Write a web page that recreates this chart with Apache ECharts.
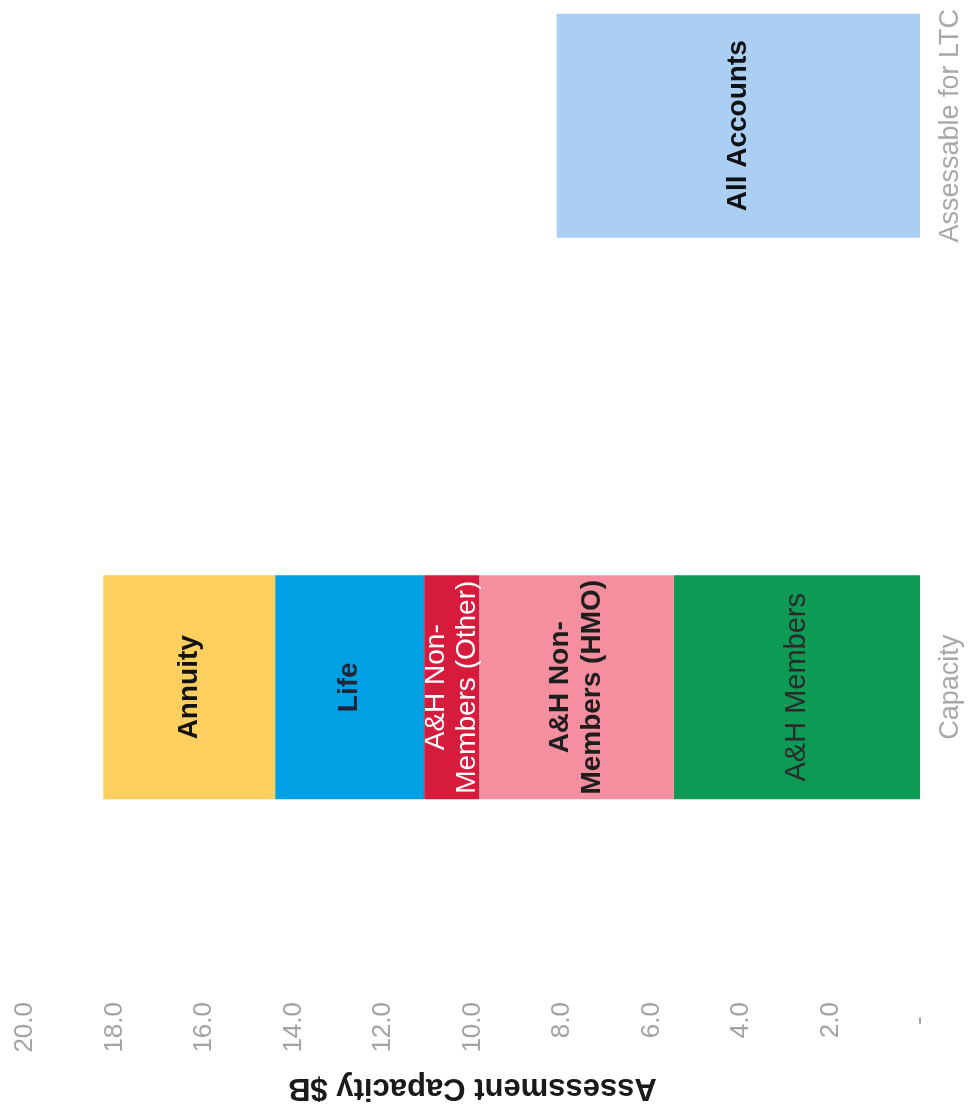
<!DOCTYPE html>
<html>
<head>
<meta charset="utf-8">
<style>
html,body{margin:0;padding:0;background:#fff;}
#chart{width:974px;height:1114px;}
</style>
<script src="https://cdn.jsdelivr.net/npm/echarts@6/dist/echarts.min.js"></script>
</head>
<body>
<div id="chart"></div>
<script>
// Data (values in $B)
const categories = ['Capacity', 'Assessable for LTC'];
const ahMembers = [5.5, null];
const ahNonMembersHMO = [4.35, null];
const ahNonMembersOther = [1.23, null];
const life = [3.33, null];
const annuity = [3.84, null];
const allAccounts = [null, 8.12];
const axisMin = 0, axisMax = 20, axisInterval = 2;
const axisTitle = 'Assessment Capacity $B';

const FONT = "'Liberation Sans', Arial, sans-serif";

function seg(name, data, color, labelText, labelStyle) {
  return {
    name: name,
    type: 'bar',
    stack: 'total',
    barWidth: 224,
    data: data,
    itemStyle: { color: color },
    label: Object.assign({
      show: true,
      position: 'inside',
      rotate: 90,
      formatter: labelText,
      fontFamily: FONT,
      fontSize: 28,
      lineHeight: 32
    }, labelStyle)
  };
}

const chart = echarts.init(document.getElementById('chart'), null, { renderer: 'canvas' });
chart.setOption({
  backgroundColor: '#ffffff',
  animation: false,
  grid: {
    left: 25, right: 54, top: -155, bottom: 146,
    containLabel: false,
    outerBoundsMode: 'none'
  },
  xAxis: {
    type: 'value',
    inverse: true,
    position: 'bottom',
    min: axisMin, max: axisMax, interval: axisInterval,
    axisLine: { show: false },
    axisTick: { show: false },
    splitLine: { show: false },
    axisLabel: {
      rotate: 90,
      margin: 34,
      color: '#a3a3a3',
      fontFamily: FONT,
      fontSize: 26,
      formatter: function (v) { return v === 0 ? ' -\u2007' : v.toFixed(1); }
    },
    name: axisTitle,
    nameLocation: 'middle',
    nameRotate: 180,
    nameGap: 104,
    nameTextStyle: {
      color: '#1a1a1a',
      fontFamily: FONT,
      fontSize: 31,
      fontWeight: 'bold'
    }
  },
  yAxis: {
    type: 'category',
    position: 'right',
    data: categories,
    axisLine: { show: false },
    axisTick: { show: false },
    splitLine: { show: false },
    axisLabel: {
      rotate: 90,
      margin: 17,
      color: '#a8a8a8',
      fontFamily: FONT,
      fontSize: 27
    }
  },
  series: [
    seg('A&H Members', ahMembers, '#0d9a55', 'A&H Members', { color: '#2b2b2b', fontWeight: 'normal', fontSize: 29 }),
    seg('A&H Non-Members (HMO)', ahNonMembersHMO, '#f58e9f', 'A&H Non-\nMembers (HMO)', { color: '#1e1e1e', fontWeight: 'bold' }),
    seg('A&H Non-Members (Other)', ahNonMembersOther, '#d71b3d', 'A&H Non-\nMembers (Other)', { color: '#ffffff', fontWeight: 'normal', lineHeight: 31 }),
    seg('Life', life, '#00a1e4', 'Life', { color: '#1b2638', fontWeight: 'bold' }),
    seg('Annuity', annuity, '#fccf5f', 'Annuity', { color: '#111111', fontWeight: 'bold' }),
    seg('All Accounts', allAccounts, '#abcff3', 'All Accounts', { color: '#111111', fontWeight: 'bold' })
  ]
});
</script>
</body>
</html>
